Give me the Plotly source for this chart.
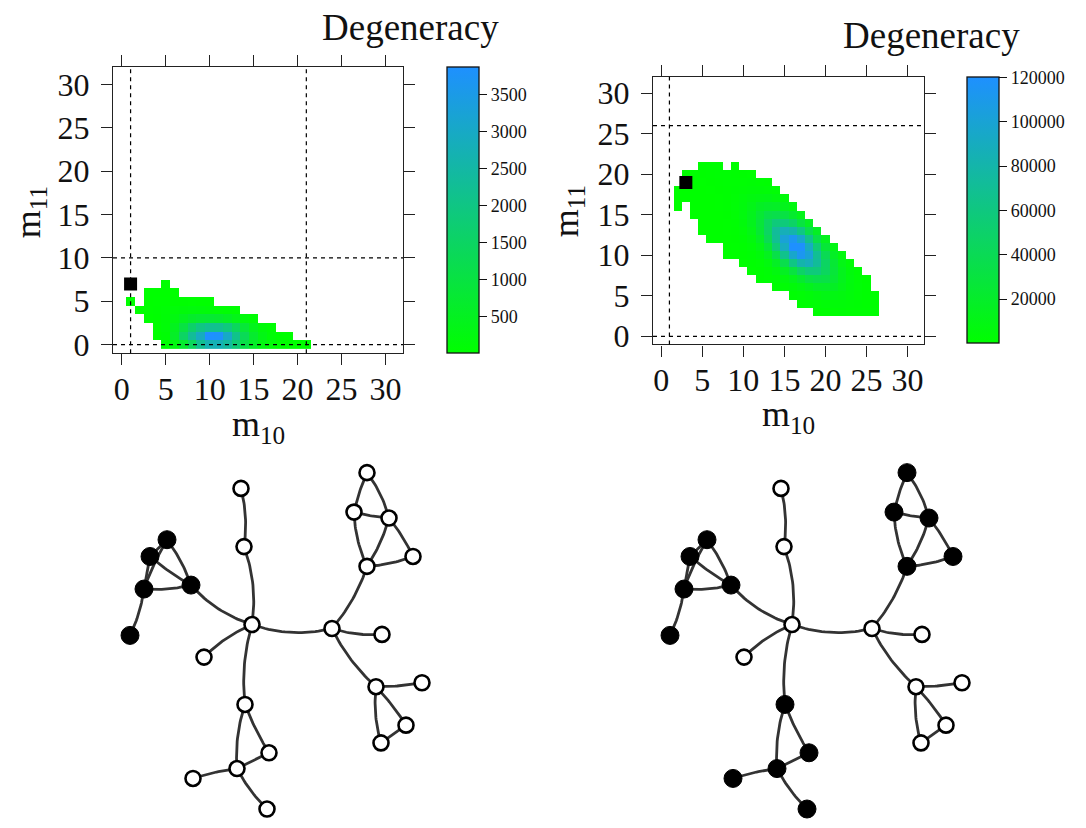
import numpy as np
import plotly.graph_objects as go

FONT = "Liberation Serif"
OFF_X, OFF_Y = 8, 8          # page offset of the plot div (body margin, px)
SCREEN_W, SCREEN_H = 1086, 828
W, H = SCREEN_W - OFF_X, SCREEN_H - 2 * OFF_Y

# ---------------- data: heatmap 1 (left) ----------------
m_ticks = [0, 5, 10, 15, 20, 25, 30]
left_m11 = [0, 1, 2, 3, 4, 5, 6, 7]
left_start_m10 = [5, 4, 4, 3, 2, 1, 3, 5]
left_row0 = [30, 250, 700, 1400, 2200, 2700, 2750, 2400, 1800, 1100, 600, 280, 120, 50, 20, 8, 2]
left_row1 = [5, 60, 600, 1500, 2300, 2900, 3870, 3800, 3000, 2100, 1300, 700, 300, 110, 35, 10]
left_row2 = [10, 100, 450, 1000, 1600, 2000, 2200, 2150, 1900, 1400, 850, 420, 160, 50]
left_row3 = [3, 20, 90, 250, 450, 650, 750, 780, 720, 560, 360, 180, 60]
left_row4 = [2, 10, 30, 70, 120, 160, 180, 170, 130, 80, 40, 12]
left_row5 = [1, None, 4, 10, 18, 22, 20, 14, 7, 2]
left_row6 = [1, 2, 3, 2]
left_row7 = [1]
left_rows = [left_row0, left_row1, left_row2, left_row3, left_row4, left_row5, left_row6, left_row7]
left_ticks_cb = [500, 1000, 1500, 2000, 2500, 3000, 3500]
left_zmax = 3873
left_vlines = [1, 21]
left_hlines = [0, 10]
left_obs = (1, 7)

# ---------------- data: heatmap 2 (right) ----------------
right_m11 = list(range(3, 22))
right_start_m10 = [19, 17, 16, 14, 12, 11, 10, 8, 8, 6, 5, 5, 4, 2, 2, 2, 3, 3, 5]
right_row3 = [650, 1000, 1400, 1650, 1440, 1200, 1200, 960]
right_row4 = [840, 1440, 2350, 3240, 3960, 3840, 3000, 1800, 960, 660]
right_row5 = [1440, 2660, 4700, 7200, 9240, 8640, 7200, 4800, 2400, 990, 360]
right_row6 = [1000, 2160, 4320, 8060, 13300, 18500, 19200, 16800, 10800, 5760, 2640, 900]
right_row7 = [600, 1200, 2820, 6050, 12100, 21600, 31700, 35500, 33600, 24000, 13400, 5940, 2160, 670]
right_row8 = [500, 1130, 3000, 7200, 15800, 30200, 47500, 57600, 57600, 44400, 26900, 13200, 5040, 1510]
right_row9 = [360, 860, 2520, 6770, 16800, 36000, 62000, 80600, 86400, 72000, 46100, 24400, 10100, 3360]
right_row10 = [100, 220, 580, 1800, 5180, 14100, 33800, 66000, 96000, 112800, 100800, 69100, 39600, 17300, 6200]
right_row11 = [120, 340, 1110, 3460, 10100, 25900, 55400, 90200, 120000, 118500, 90200, 55400, 25900, 10100]
right_row12 = [20, 50, 170, 600, 2000, 6200, 17300, 39600, 69100, 100800, 112800, 96000, 66000, 33800, 14100]
right_row13 = [10, 24, 70, 270, 1000, 3360, 10100, 24400, 46100, 72000, 86400, 80600, 62000, 36000, 16800]
right_row14 = [10, 30, 120, 430, 1500, 5040, 13200, 26900, 44400, 57600, 57600, 47500, 30200, 15800]
right_row15 = [6, 12, 45, 180, 670, 2160, 5940, 13400, 24000, 33600, 35500, 31700, 21600, 12100]
right_row16 = [4, None, 12, 30, 70, 250, 900, 2640, 5760, 10800, 16800, 19200, 18500, 13300, 8060]
right_row17 = [6, 12, 30, 70, 170, 360, 990, 2400, 4800, 7200, 8640, 9240, 7200, 4700]
right_row18 = [12, 30, 70, 170, 360, 660, 960, 1800, 3000, 3840, 3960, 3240, 2350]
right_row19 = [70, 170, 360, 660, 960, 1200, 1200, 1440, 1650, 1440, 1000]
right_row20 = [170, 360, 660, 960, 1200, 1200, 960, 660, 540]
right_row21 = [960, 1200, 1200, None, 660]
right_rows = [right_row3, right_row4, right_row5, right_row6, right_row7, right_row8, right_row9,
              right_row10, right_row11, right_row12, right_row13, right_row14, right_row15,
              right_row16, right_row17, right_row18, right_row19, right_row20, right_row21]
right_ticks_cb = [20000, 40000, 60000, 80000, 100000, 120000]
right_zmax = 120000
right_vlines = [1]
right_hlines = [0, 26]
right_obs = (3, 19)

# ---------------- data: network ----------------
node_x = [241, 244, 252, 332, 382, 204, 167, 150, 144, 191, 130, 367, 354, 389, 413, 367,
          376, 422, 406, 381, 245, 269, 237, 193, 267]
node_y = [494, 553, 632, 636, 642, 665, 546, 563, 596, 592, 643, 478, 518, 524, 563, 573,
          695, 691, 734, 752, 713, 762, 778, 788, 819]
edge_from = [0, 1, 2, 2, 2, 2, 20, 20, 21, 22, 22, 3, 3, 3, 16, 16, 16, 18,
             11, 11, 12, 12, 13, 13, 14, 6, 6, 6, 7, 7, 8, 8]
edge_to = [1, 2, 3, 5, 9, 20, 22, 21, 22, 23, 24, 4, 15, 16, 17, 18, 19, 19,
           12, 13, 13, 15, 15, 14, 15, 9, 8, 7, 8, 9, 9, 10]
edge_bend = [-0.1, -0.125, 0.15, 0.1, -0.14, 0.1, 0.1, 0.05, 0.0, 0.05, 0.08, 0.1, 0.1, 0.1,
             0.05, -0.05, 0.1, 0.0, 0.05, -0.1, 0.05, 0.1, -0.08, -0.06, -0.08,
             -0.08, 0.05, 0.0, 0.0, 0.05, 0.08, -0.08]
filled_left = [6, 7, 8, 9, 10]
filled_right = [6, 7, 8, 9, 10, 11, 12, 13, 14, 15, 20, 21, 22, 23, 24]
network_shift = [0, 540]

colorscale = [[0.0, "#00FF00"], [1.0, "#1E90FF"]]


def build_z(m11_list, starts, rows):
    z = np.full((33, 33), np.nan)
    for j, s, r in zip(m11_list, starts, rows):
        for i, v in enumerate(r):
            if v is not None:
                z[j, s + i] = v
    return z


def px_x(p):
    return (p - OFF_X) / W


def px_y(p):
    return 1 - (p - OFF_Y) / H


fig = go.Figure()

grid = list(range(33))
z_left = build_z(left_m11, left_start_m10, left_rows)
z_right = build_z(right_m11, right_start_m10, right_rows)


def cbar(x0, y_top, y_bot, ticks):
    return dict(
        x=px_x(x0), xanchor="left", xref="paper", xpad=0,
        y=px_y(y_bot), yanchor="bottom", yref="paper", ypad=0,
        len=(y_bot - y_top) / H, lenmode="fraction",
        thickness=32, thicknessmode="pixels",
        outlinewidth=1.3, outlinecolor="#111",
        ticks="outside", ticklen=8, tickwidth=1, tickcolor="#111",
        tickvals=ticks, tickformat="d",
        tickfont=dict(family=FONT, size=18, color="#111"),
    )


fig.add_trace(go.Heatmap(
    x=grid, y=grid, z=z_left, colorscale=colorscale, zmin=1, zmax=left_zmax,
    colorbar=cbar(447, 67, 357, left_ticks_cb), hoverongaps=False,
    xaxis="x", yaxis="y"))
fig.add_trace(go.Heatmap(
    x=grid, y=grid, z=z_right, colorscale=colorscale, zmin=1, zmax=right_zmax,
    colorbar=cbar(967, 77, 347, right_ticks_cb), hoverongaps=False,
    xaxis="x2", yaxis="y2"))

fig.add_trace(go.Scatter(x=[left_obs[0]], y=[left_obs[1]], mode="markers",
                         marker=dict(symbol="square", size=13, color="black"),
                         xaxis="x", yaxis="y", hoverinfo="skip"))
fig.add_trace(go.Scatter(x=[right_obs[0]], y=[right_obs[1]], mode="markers",
                         marker=dict(symbol="square", size=13, color="black"),
                         xaxis="x2", yaxis="y2", hoverinfo="skip"))

# ---------------- network drawings ----------------
for shift, filled in zip(network_shift, [filled_left, filled_right]):
    ex, ey = [], []
    for a, b, c in zip(edge_from, edge_to, edge_bend):
        x0, y0 = node_x[a] + shift, node_y[a]
        x1, y1 = node_x[b] + shift, node_y[b]
        dx, dy = x1 - x0, y1 - y0
        cx = (x0 + x1) / 2 - c * dy
        cy = (y0 + y1) / 2 + c * dx
        t = np.linspace(0, 1, 25)
        bx = (1 - t) ** 2 * x0 + 2 * (1 - t) * t * cx + t ** 2 * x1
        by = (1 - t) ** 2 * y0 + 2 * (1 - t) * t * cy + t ** 2 * y1
        ex += list(bx) + [None]
        ey += list(by) + [None]
    fig.add_trace(go.Scatter(x=ex, y=ey, mode="lines", line=dict(color="#333333", width=2.8),
                             xaxis="x3", yaxis="y3", hoverinfo="skip", cliponaxis=False))
    white = [i for i in range(len(node_x)) if i not in filled]
    fig.add_trace(go.Scatter(
        x=[node_x[i] + shift for i in white], y=[node_y[i] for i in white], mode="markers",
        marker=dict(size=15, color="white", line=dict(color="black", width=2.6)),
        xaxis="x3", yaxis="y3", hoverinfo="skip", cliponaxis=False))
    fig.add_trace(go.Scatter(
        x=[node_x[i] + shift for i in filled], y=[node_y[i] for i in filled], mode="markers",
        marker=dict(size=18, color="black", line=dict(color="black", width=1)),
        xaxis="x3", yaxis="y3", hoverinfo="skip", cliponaxis=False))


def axis(domain, anchor, standoff):
    return dict(domain=domain, anchor=anchor, range=[-1, 32], tickvals=m_ticks,
                ticks="outside", ticklen=11, tickwidth=1.3, tickcolor="#222",
                showline=True, linewidth=1.3, linecolor="#222", mirror="ticks",
                showgrid=False, zeroline=False, fixedrange=True,
                ticklabelstandoff=standoff,
                tickfont=dict(family=FONT, size=32, color="#111"))


shapes = []
dash = "4px,4px"
for xv in left_vlines:
    shapes.append(dict(type="line", xref="x", yref="y domain", x0=xv, x1=xv, y0=0, y1=1,
                       line=dict(color="black", width=1.2, dash=dash), layer="above"))
for yv in left_hlines:
    shapes.append(dict(type="line", xref="x domain", yref="y", x0=0, x1=1, y0=yv, y1=yv,
                       line=dict(color="black", width=1.2, dash=dash), layer="above"))
for xv in right_vlines:
    shapes.append(dict(type="line", xref="x2", yref="y2 domain", x0=xv, x1=xv, y0=0, y1=1,
                       line=dict(color="black", width=1.2, dash=dash), layer="above"))
for yv in right_hlines:
    shapes.append(dict(type="line", xref="x2 domain", yref="y2", x0=0, x1=1, y0=yv, y1=yv,
                       line=dict(color="black", width=1.2, dash=dash), layer="above"))


def ann(text, x, y, size, angle=0):
    return dict(text=text, x=px_x(x), y=px_y(y), xref="paper", yref="paper",
                showarrow=False, font=dict(family=FONT, size=size, color="#111"),
                textangle=angle, xanchor="center", yanchor="middle")


annotations = [
    ann("Degeneracy", 410, 27, 37),
    ann("Degeneracy", 931, 35, 37),
    ann("m<sub>10</sub>", 258, 431, 36),
    ann("m<sub>10</sub>", 788, 421, 36),
    ann("m<sub>11</sub>", 30, 214, 36, -90),
    ann("m<sub>11</sub>", 568, 213, 36, -90),
]

fig.update_layout(
    width=W, height=H, margin=dict(l=0, r=0, t=0, b=0),
    paper_bgcolor="white", plot_bgcolor="white", showlegend=False,
    xaxis=axis([px_x(113), px_x(403)], "y", -4),
    yaxis=axis([px_y(357), px_y(67)], "x", 5),
    xaxis2=axis([px_x(653), px_x(924)], "y2", -4),
    yaxis2=axis([px_y(348), px_y(77)], "x2", 5),
    xaxis3=dict(domain=[0, 1], anchor="y3", range=[OFF_X, SCREEN_W], visible=False,
                fixedrange=True),
    yaxis3=dict(domain=[0, px_y(455)], anchor="x3", range=[OFF_Y + H, 455], visible=False,
                fixedrange=True),
    shapes=shapes, annotations=annotations,
    font=dict(family=FONT, color="#111"),
)

fig.write_html("out.html")
